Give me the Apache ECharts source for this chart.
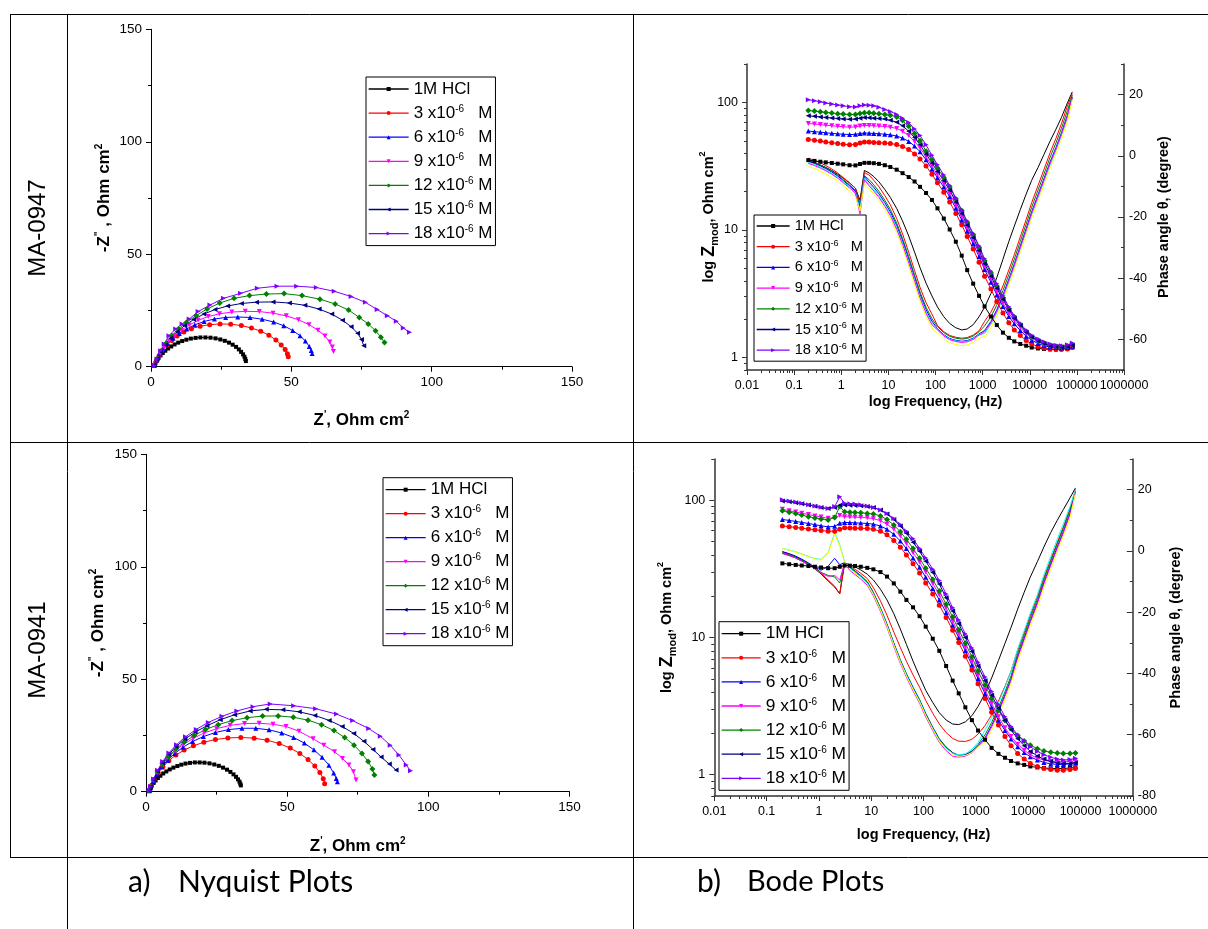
<!DOCTYPE html>
<html>
<head>
<meta charset="utf-8">
<script src="https://cdn.jsdelivr.net/npm/echarts@6/dist/echarts.min.js"></script>
<style>
html,body{margin:0;padding:0;background:#fff;}
#c{width:1208px;height:929px;}
</style>
</head>
<body>
<div id="c"></div>
<script>
// ---------- legend entries (inhibitor concentration) ----------
const seriesNames = ['1M HCl', '3 x10-6 M', '6 x10-6 M', '9 x10-6 M', '12 x10-6 M', '15 x10-6 M', '18 x10-6 M'];
const legendLabel = {
  '1M HCl': '1M HCl',
  '3 x10-6 M': '3 x10{s|-6}   M',
  '6 x10-6 M': '6 x10{s|-6}   M',
  '9 x10-6 M': '9 x10{s|-6}   M',
  '12 x10-6 M': '12 x10{s|-6} M',
  '15 x10-6 M': '15 x10{s|-6} M',
  '18 x10-6 M': '18 x10{s|-6} M'
};
const seriesColors = ['#000000', '#ff0000', '#0000ff', '#ff00ff', '#008000', '#000080', '#8000ff'];
const phaseColors = ['#000000', '#ff0000', '#008000', '#0000ff', '#00ffff', '#ff00ff', '#ffff00'];
const markSymbols = ['rect', 'circle', 'triangle', 'triangle', 'diamond', 'triangle', 'triangle'];
const markRotate = [0, 0, 0, 180, 0, 90, -90];
const markSize = [4, 5, 5, 5, 6, 5, 5];

// ---------- tick labels ----------
const nyqTicks = [0, 50, 100, 150];
const freqTicks = [0.01, 0.1, 1, 10, 100, 1000, 10000, 100000, 1000000];
const zmodTicks = [1, 10, 100];
const phaseTicksA = [-60, -40, -20, 0, 20];
const phaseTicksB = [-80, -60, -40, -20, 0, 20];
const phaseMinor = [-70, -50, -30, -10, 10, 30];

// ---------- Nyquist, MA-0947 (Z', -Z'') ----------
const nyqA_hcl = [[1.2,0.4],[1.6,1.6],[2.1,2.8],[2.7,3.9],[3.4,5.0],[4.2,6.1],[5.1,7.1],[6.1,8.1],[7.2,9.0],[8.4,9.9],[9.7,10.7],[11.1,11.4],[12.6,12.0],[14.2,12.5],[15.9,12.8],[17.6,13.0],[19.4,13.0],[21.2,12.9],[23.0,12.6],[24.7,12.1],[26.3,11.5],[27.8,10.7],[29.1,9.8],[30.3,8.8],[31.3,7.7],[32.1,6.6],[32.8,5.5],[33.3,4.4],[33.6,3.4],[33.8,2.5]];
const nyqA_3 = [[1.1,0.5],[1.9,2.7],[2.9,5.0],[4.1,7.3],[5.6,9.5],[7.3,11.6],[9.3,13.6],[11.7,15.4],[14.4,16.9],[17.5,18.0],[20.9,18.7],[24.6,19.0],[28.4,18.9],[32.2,18.3],[35.8,17.2],[39.1,15.8],[42.0,14.0],[44.5,11.9],[46.4,9.7],[47.8,7.6],[48.6,5.8],[48.9,4.4]];
const nyqA_6 = [[1.1,0.6],[2.0,3.0],[3.1,5.6],[4.4,8.0],[6.0,10.4],[7.9,12.7],[10.1,14.8],[12.7,16.8],[15.6,18.6],[18.9,20.1],[22.6,21.2],[26.6,21.9],[30.9,22.1],[35.3,21.9],[39.6,21.1],[43.7,19.9],[47.3,18.2],[50.5,16.1],[53.1,13.8],[55.0,11.4],[56.4,9.0],[57.1,7.2],[57.4,5.9]];
const nyqA_9 = [[1.1,0.6],[2.1,3.2],[3.3,6.0],[4.7,8.7],[6.4,11.3],[8.4,13.8],[10.8,16.2],[13.6,18.5],[16.8,20.6],[20.4,22.3],[24.4,23.5],[28.8,24.3],[33.6,24.6],[38.6,24.5],[43.5,23.8],[48.2,22.6],[52.5,20.9],[56.3,18.7],[59.5,16.2],[62.0,13.6],[63.7,11.0],[64.6,8.8],[65.0,6.8]];
const nyqA_12 = [[1.15,0.7],[2.3,3.7],[3.7,7.1],[5.4,10.4],[7.4,13.8],[9.8,16.8],[12.6,19.7],[16.1,22.7],[20.0,25.7],[24.5,28.3],[29.6,30.4],[35.1,31.6],[41.1,32.3],[47.4,32.5],[53.8,31.6],[60.2,30.0],[65.6,27.9],[70.4,25.2],[74.2,21.9],[77.4,19.0],[80.0,16.0],[81.9,13.1],[83.2,10.8]];
const nyqA_15 = [[1.1,0.6],[2.2,3.4],[3.5,6.6],[5.1,9.6],[7.0,12.6],[9.3,15.5],[12.0,18.3],[15.2,21.0],[18.8,23.4],[22.8,25.4],[27.3,27.0],[32.2,28.1],[37.6,28.7],[43.5,28.8],[49.3,28.3],[54.8,27.3],[59.9,25.6],[64.4,23.4],[68.2,20.7],[71.3,17.8],[73.6,14.9],[75.0,12.1],[75.8,9.3]];
const nyqA_18 = [[1.15,0.45],[2.17,3.4],[3.44,7.1],[4.7,10.1],[6.4,13.8],[8.8,16.8],[11.1,19.0],[13.6,21.2],[16.8,24.5],[21.0,27.4],[25.8,30.4],[31.9,32.6],[37.9,34.9],[44.9,35.8],[51.9,35.8],[58.9,35.2],[65.3,33.5],[71.3,31.2],[76.4,28.6],[80.6,25.4],[84.2,22.7],[87.4,20.2],[89.9,17.2],[92.1,15.3]];

// ---------- Nyquist, MA-0941 ----------
const nyqB_hcl = [[1.2,0.4],[1.6,1.6],[2.1,2.8],[2.7,3.9],[3.4,5.0],[4.2,6.1],[5.1,7.1],[6.1,8.1],[7.2,9.0],[8.4,9.9],[9.7,10.7],[11.1,11.4],[12.5,12.0],[14.0,12.5],[15.6,12.8],[17.3,13.0],[19.0,13.0],[20.7,12.9],[22.5,12.6],[24.2,12.1],[25.8,11.5],[27.3,10.7],[28.7,9.8],[29.9,8.8],[31.0,7.7],[31.9,6.6],[32.6,5.5],[33.1,4.5],[33.4,3.6],[33.6,2.8]];
const nyqB_3 = [[1.2,0.5],[1.9,2.6],[2.9,5.4],[4.3,8.3],[6.0,11.1],[8.1,13.8],[10.6,16.3],[13.5,18.5],[16.8,20.4],[20.5,22.0],[24.6,23.2],[29.0,23.9],[33.6,24.1],[38.3,23.8],[42.9,22.9],[47.2,21.4],[51.1,19.4],[54.5,17.0],[57.4,14.3],[59.8,11.4],[61.6,8.5],[62.8,5.8],[63.3,3.5]];
const nyqB_6 = [[1.1,0.4],[1.6,1.8],[2.6,4.6],[3.9,7.9],[5.6,11.0],[7.7,14.0],[10.2,17.0],[13.1,19.8],[16.5,22.3],[20.3,24.5],[24.6,26.3],[29.2,27.6],[34.0,28.2],[38.9,28.2],[43.6,27.5],[48.1,26.1],[52.3,24.1],[56.1,21.6],[59.5,18.6],[62.4,15.3],[64.8,11.8],[66.5,8.3],[67.4,5.9],[67.8,4.4]];
const nyqB_9 = [[1.1,0.5],[1.6,2.0],[2.6,5.0],[3.9,8.5],[5.6,11.8],[7.7,15.0],[10.2,18.1],[13.2,21.0],[16.7,23.7],[20.6,26.1],[25.0,28.0],[29.8,29.5],[34.9,30.3],[40.1,30.4],[45.0,30.0],[49.6,29.0],[54.2,26.9],[59.2,23.5],[63.0,20.7],[66.8,17.8],[69.6,14.8],[71.9,11.9],[73.5,8.9],[74.4,5.2]];
const nyqB_12 = [[1.1,0.5],[1.6,2.1],[2.7,5.2],[4.1,8.8],[5.9,12.3],[8.0,15.7],[10.6,19.0],[13.6,22.1],[17.1,25.0],[21.1,27.6],[25.6,29.8],[30.5,31.6],[35.8,32.9],[41.3,33.6],[46.8,33.7],[52.2,33.1],[57.4,31.8],[62.2,29.8],[66.6,27.2],[70.4,24.1],[73.7,20.7],[76.5,17.0],[78.7,13.4],[80.2,10.1],[80.9,7.4]];
const nyqB_15 = [[1.1,0.5],[1.6,2.2],[2.7,5.4],[4.1,9.2],[5.9,12.9],[8.1,16.6],[10.7,20.1],[13.8,23.4],[17.4,26.5],[21.6,29.3],[26.3,32.0],[31.4,34.2],[36.9,35.9],[42.6,36.6],[48.5,36.4],[54.3,35.5],[59.8,33.9],[64.9,31.7],[69.5,29.0],[73.6,25.9],[77.2,22.4],[80.4,18.8],[83.3,15.4],[86.2,12.3],[88.6,9.6]];
const nyqB_18 = [[1.1,0.5],[1.6,2.3],[2.7,5.6],[4.1,9.5],[5.9,13.4],[8.1,17.2],[10.8,20.9],[14.0,24.4],[17.8,27.7],[22.1,30.8],[26.9,33.5],[32.2,35.9],[37.9,37.8],[44.0,39.0],[52.3,38.2],[60.1,36.9],[67.5,34.5],[73.2,31.6],[78.9,28.1],[83.0,24.7],[86.5,20.7],[89.6,16.3],[92.2,11.9],[93.7,9.3]];

// ---------- Bode: measured frequencies (Hz) ----------
const freqHz = [0.2,0.27,0.36,0.47,0.63,0.84,1.1,1.5,2.0,2.5,3.1,3.9,4.9,6.3,8.4,11,15,20,27,36,47,63,84,110,150,200,270,360,470,630,840,1100,1500,2000,2700,3600,4700,6300,8400,11000,15000,20000,27000,36000,47000,63000,80000];

// |Z| (Ohm cm2), MA-0947
const zmodA_hcl = [35.3,34.8,34.3,33.9,33.5,33.1,32.7,32.2,32.1,32.9,33.6,33.6,33.4,33,32.2,31.2,29.7,27.9,26,24,21.8,19.5,17.2,14.8,12.3,10.1,8.1,6.3,4.85,3.8,3.05,2.52,2.1,1.8,1.57,1.43,1.34,1.28,1.24,1.2,1.18,1.17,1.16,1.16,1.17,1.18,1.2];
const zmodA_3 = [51.3,50.5,49.8,49,48.3,47.6,47,46.5,46.8,48,49,48.9,48.6,48.3,48,47.6,46.8,45.2,42.8,39.5,36,31.8,27.3,23.5,19.8,16.6,13.5,11,8.9,7.1,5.6,4.35,3.45,2.75,2.24,1.88,1.65,1.49,1.36,1.28,1.22,1.19,1.17,1.16,1.16,1.17,1.2];
const zmodA_6 = [59.6,59,58.4,57.8,57.2,56.7,56.3,56,56.2,57,57.6,57.4,57.1,56.8,56.3,55.7,54.5,52.5,49.5,45.5,41,35.5,30,25.7,21.7,18.2,14.8,12,9.8,7.8,6.2,4.9,3.9,3.1,2.52,2.1,1.84,1.63,1.47,1.37,1.29,1.24,1.21,1.2,1.19,1.2,1.23];
const zmodA_9 = [68.4,67.7,67,66.3,65.6,65,64.5,64,64.2,65.3,66,65.8,65.5,65.2,64.8,64,62.5,59.5,55,49.5,44,37.5,31.8,27.2,23,19.3,15.7,12.8,10.4,8.3,6.6,5.2,4.15,3.3,2.68,2.22,1.95,1.72,1.54,1.42,1.33,1.27,1.23,1.21,1.2,1.21,1.24];
const zmodA_12 = [86.5,85.5,84.5,83.5,82.5,81.5,81,80.3,80.5,82,83,82.8,82.2,81.5,80.5,79.5,77,72,65,57,50,41.5,35.5,30.5,25.8,21.7,17.5,14.2,11.5,9.2,7.3,5.75,4.6,3.65,2.95,2.42,2.08,1.82,1.6,1.46,1.37,1.3,1.25,1.23,1.22,1.23,1.26];
const zmodA_15 = [78.5,77.8,77,76.3,75.5,74.8,74.2,73.7,74,75.2,76,75.8,75.3,74.8,74,72.5,70,65.5,59.5,53,46.5,39.5,33.5,28.8,24.3,20.5,16.6,13.5,10.9,8.7,6.9,5.45,4.35,3.5,2.85,2.35,2.03,1.79,1.58,1.45,1.35,1.29,1.24,1.22,1.21,1.22,1.25];
const zmodA_18 = [105,103,101,99,97,95.5,94,92.5,92,94,95.5,95,94,91.5,88,85,80.5,75,69.5,62,55,46.5,38.5,32.5,27,22.3,17.8,14.3,11.7,9.4,7.5,5.95,4.75,3.8,3.05,2.5,2.13,1.85,1.64,1.5,1.4,1.33,1.28,1.25,1.24,1.26,1.3];

// phase angle (degree), MA-0947
const phaseA_1 = [-1.7,-2.3,-3,-3.8,-4.8,-6,-7.3,-8.9,-10.6,-14.5,-4.8,-5.6,-6.8,-8.5,-11,-13.6,-17.2,-21.3,-26.2,-31.5,-36.6,-41.6,-45.8,-49.4,-52.6,-54.8,-56.2,-56.9,-56.6,-55.2,-52.6,-49.5,-45,-39.8,-33.8,-28,-23,-17.6,-12.5,-8,-3.8,0.4,4.8,8.7,12.5,17.3,20.9];
const phaseA_2 = [-0.8,-1.5,-2.3,-3.2,-4.3,-5.6,-7.1,-8.8,-10.6,-15.5,-5.5,-6.3,-8.0,-10.1,-13.0,-16.0,-20.5,-25.5,-31.5,-37.5,-43.0,-48.0,-51.7,-55.5,-57.5,-58.7,-59.3,-59.6,-59.4,-58.6,-57.2,-54.1,-51.1,-47.3,-42.5,-37.3,-32.3,-26.5,-20.8,-15.3,-9.7,-4.5,1.0,5.7,10.5,16.3,20.3];
const phaseA_3 = [-1.5,-2.2,-3.0,-3.9,-5.0,-6.3,-7.8,-9.5,-11.3,-16.5,-6.5,-7.8,-9.5,-11.6,-14.5,-17.5,-22,-27,-33,-39,-44.5,-49.5,-53.2,-55.8,-57.8,-59.0,-59.6,-59.9,-59.7,-58.9,-57.5,-55.6,-52.6,-48.8,-44.0,-38.8,-33.8,-28.0,-22.3,-16.8,-11.2,-6.0,-0.5,4.2,9.0,14.8,19.8];
const phaseA_4 = [-1.8,-2.5,-3.3,-4.2,-5.3,-6.6,-8.1,-9.8,-11.6,-17.0,-6.8,-8.6,-10.3,-12.4,-15.3,-18.3,-22.8,-27.8,-33.8,-39.8,-45.3,-50.3,-54.0,-56.5,-58.5,-59.7,-60.3,-60.6,-60.4,-59.6,-58.2,-57.1,-54.1,-50.3,-45.5,-40.3,-35.3,-29.5,-23.8,-18.3,-12.7,-7.5,-2.0,2.7,7.5,13.3,19.2];
const phaseA_5 = [-2.2,-2.9,-3.7,-4.6,-5.7,-7.0,-8.5,-10.2,-12.0,-17.5,-7.2,-9.3,-11.0,-13.1,-16.0,-19.0,-23.5,-28.5,-34.5,-40.5,-46.0,-51.0,-54.7,-56.7,-58.7,-59.9,-60.5,-60.8,-60.6,-59.8,-58.4,-58.1,-55.1,-51.3,-46.5,-41.3,-36.3,-30.5,-24.8,-19.3,-13.7,-8.5,-3.0,1.7,6.5,12.3,18.8];
const phaseA_6 = [-2.5,-3.2,-4.0,-4.9,-6.0,-7.3,-8.8,-10.5,-12.3,-19.0,-7.8,-9.8,-11.5,-13.6,-16.5,-19.5,-24.0,-29.0,-35.0,-41.0,-46.5,-51.5,-55.2,-56.9,-58.9,-60.1,-60.7,-61.0,-60.8,-60.0,-58.6,-57.6,-54.6,-50.8,-46.0,-40.8,-35.8,-30.0,-24.3,-18.8,-13.2,-8.0,-2.5,2.2,7.0,12.8,19.0];
const phaseA_7 = [-3.5,-4.2,-5.0,-5.9,-7.0,-8.3,-9.8,-11.5,-13.3,-18.0,-9.0,-10.8,-12.5,-14.6,-17.5,-20.5,-25.0,-30.0,-36.0,-42.0,-47.5,-52.5,-56.2,-57.9,-59.9,-61.1,-61.7,-62.0,-61.8,-61.0,-59.6,-59.1,-56.1,-52.3,-47.5,-42.3,-37.3,-31.5,-25.8,-20.3,-14.7,-9.5,-4.0,0.7,5.5,11.3,18.3];

// |Z| (Ohm cm2), MA-0941
const zmodB_hcl = [34.7,34.2,33.8,33.5,33.2,32.8,32.4,32.0,32.0,32.8,33.5,33.4,33.2,32.8,32.2,31.4,30,27.8,24.8,21.6,18.8,16.6,14.3,12,9.8,8.0,6.2,4.85,3.92,3.1,2.5,2.1,1.8,1.57,1.42,1.33,1.26,1.21,1.18,1.15,1.13,1.12,1.11,1.11,1.11,1.12,1.13];
const zmodB_3 = [65,64.2,63.4,62.6,61.8,61,60.2,59.5,59.6,61.5,63,62.9,62.7,62.5,62.3,61.5,59.5,56,51,45.5,40,34.5,29.5,25,20.8,17.2,14,11.3,9.2,7.3,5.8,4.6,3.6,2.85,2.3,1.9,1.63,1.43,1.3,1.21,1.15,1.11,1.09,1.08,1.08,1.09,1.11];
const zmodB_6 = [72.5,71.3,70.2,69,67.8,66.5,65.2,64,64.6,68,69,68.8,68.5,68.2,67.8,67,65,61.5,56.5,50.5,44.5,38,32.5,27.5,22.8,18.8,15.2,12.3,10,8,6.3,5,3.9,3.1,2.5,2.1,1.82,1.6,1.45,1.35,1.28,1.23,1.2,1.19,1.19,1.2,1.22];
const zmodB_9 = [86,84,82.2,80.5,78.8,77,75.5,74,74.8,77.5,76,75.7,75.4,75,74.5,73.5,71,67,61.5,55,48.5,41.5,35.5,30,24.8,20.4,16.4,13.2,10.7,8.5,6.7,5.3,4.15,3.3,2.65,2.2,1.9,1.67,1.51,1.4,1.32,1.28,1.25,1.24,1.24,1.25,1.27];
const zmodB_12 = [84,82,80,78,76,74.3,73,72,75,90,82.4,82,81.5,81,80.3,79.5,77,72.5,66,59,52,44.5,37.8,32,26.5,21.8,17.5,14.1,11.4,9.1,7.2,5.7,4.5,3.6,2.95,2.48,2.17,1.93,1.76,1.64,1.55,1.49,1.46,1.44,1.43,1.43,1.44];
const zmodB_15 = [99,97.5,96,94.3,92.5,90.5,88.5,87,88.5,92,92.5,92.2,91.8,91.2,90.2,88.5,85,79.5,72.5,65,57.5,49.5,42.5,36,29.8,24.5,19.5,15.6,12.6,10,7.9,6.2,4.85,3.8,3.05,2.5,2.12,1.83,1.63,1.48,1.37,1.3,1.25,1.22,1.21,1.21,1.23];
const zmodB_18 = [101,99,97,95,93,91,89,87,90,106,95,94.5,94,93,91,88.5,85,80,73.6,66.5,59.5,52.5,44.5,38,31.5,26,20.8,16.5,13.4,10.6,8.4,6.6,5.15,4.05,3.25,2.65,2.25,1.95,1.77,1.6,1.48,1.4,1.34,1.3,1.28,1.29,1.32];

// phase angle (degree), MA-0941
const phaseB_1 = [-0.8,-1.5,-2.3,-3.3,-4.5,-5.9,-7.5,-9.8,-11.8,-14.0,-4.0,-4.5,-5.2,-6.2,-7.6,-9.5,-12.5,-16.0,-20.5,-25.5,-30.5,-36.0,-41.0,-45.5,-49.5,-52.8,-55.2,-56.5,-56.7,-55.8,-53.8,-50.8,-46.5,-41.5,-35.8,-30.2,-25.0,-19.0,-13.5,-8.5,-3.5,1.3,6.0,10.0,13.5,17.3,20.5];
const phaseB_2 = [-0.3,-1.0,-1.9,-2.9,-4.1,-5.5,-7.2,-9.5,-11.5,-14.0,-4.0,-5.0,-6.0,-7.3,-9.0,-12.0,-16.3,-21.0,-26.5,-31.5,-36.0,-40.5,-44.5,-48.8,-53.0,-56.5,-59.3,-61.2,-62.1,-62.2,-61.5,-59.8,-57.0,-53.5,-49.0,-44.2,-39.2,-32.5,-26.7,-21.0,-15.0,-8.7,-2.8,2.8,7.8,13.8,20.0];
const phaseB_3 = [-0.5,-1.2,-2.0,-3.0,-4.2,-5.6,-7.0,-8.0,-8.5,-10.5,-4.0,-5.2,-6.5,-8.0,-10.0,-13.5,-18.5,-23.8,-30.0,-35.5,-40.0,-44.5,-48.5,-53.0,-57.5,-61.3,-64.0,-65.8,-66.7,-66.5,-65.3,-63.2,-60.0,-56.0,-51.2,-46.0,-40.8,-33.5,-27.5,-21.8,-15.8,-9.3,-3.3,2.3,7.3,13.3,19.5];
const phaseB_4 = [-0.2,-0.9,-1.7,-2.7,-3.9,-5.3,-6.3,-5.0,-2.4,-4.5,-3.8,-5.5,-6.8,-8.3,-10.3,-13.8,-18.8,-24.1,-30.3,-35.8,-40.3,-44.8,-48.8,-53.3,-57.8,-61.6,-64.2,-66.0,-66.8,-66.6,-65.5,-63.6,-61.0,-57.0,-52.2,-47.0,-41.8,-34.5,-28.5,-22.8,-16.8,-10.3,-4.3,1.3,6.3,12.3,19.2];
const phaseB_5 = [0.8,0.3,-0.3,-1.0,-1.8,-2.5,-2.8,-0.5,5.9,2.0,-3.5,-5.7,-7.0,-8.5,-10.5,-14.0,-19.0,-24.3,-30.5,-36.0,-40.5,-45.0,-49.0,-53.5,-58.0,-61.8,-64.4,-66.1,-66.6,-66.2,-64.8,-62.5,-58.5,-54.5,-49.7,-44.5,-39.3,-32.0,-26.0,-20.3,-14.3,-7.8,-1.8,3.8,8.8,14.5,19.8];
const phaseB_6 = [-0.8,-1.5,-2.3,-3.3,-4.5,-5.9,-7.3,-8.3,-8.0,-9.5,-4.0,-6.4,-7.7,-9.2,-11.2,-14.7,-19.7,-25.0,-31.2,-36.7,-41.2,-45.7,-49.7,-54.2,-58.7,-62.5,-65.2,-67.0,-67.3,-67.0,-65.9,-63.9,-61.5,-57.5,-52.7,-47.5,-42.3,-35.0,-29.0,-23.3,-17.3,-10.8,-4.8,0.8,5.8,11.8,19.0];
const phaseB_7 = [0.8,0.2,-0.4,-1.1,-1.9,-2.6,-3.0,-0.8,5.5,1.5,-3.7,-6.0,-7.3,-8.8,-10.8,-14.3,-19.3,-24.6,-30.8,-36.3,-40.8,-45.3,-49.3,-53.8,-58.3,-62.1,-64.8,-66.6,-67.0,-66.8,-65.8,-63.9,-62.5,-58.5,-53.7,-48.5,-43.3,-36.0,-30.0,-24.3,-18.3,-11.8,-5.8,-0.2,4.8,10.8,18.8];

// ---------- helpers ----------
const FONT = '"Liberation Sans", Arial, Helvetica, sans-serif';
const CAPTION_FONT = 'Lato, "Open Sans", sans-serif';
const pairs = (vals) => freqHz.map((f, i) => [f, vals[i]]);

// log-axis minor tick values (2..9 within each decade)
function logMinor(lo, hi, extra) {
  const out = extra.slice();
  for (let d = lo; d < hi; d *= 10) {
    for (let m = 2; m <= 9; m++) out.push(+(d * m).toPrecision(3));
  }
  return out;
}
const freqMinor = logMinor(0.01, 1000000, []);
const zMinorA = logMinor(1, 100, [0.8, 0.9, 200]);
const zMinorB = logMinor(1, 100, [0.7, 0.8, 0.9, 200]);

const freqLabel = (v) => v < 1 ? String(+v.toPrecision(1)) : String(Math.round(v));

function nyqX(grid, gap) {
  return {
    gridIndex: grid, type: 'value', min: 0, max: 150, position: 'bottom',
    axisLine: { show: true, onZero: false, lineStyle: { color: '#000', width: 1 } },
    axisTick: { show: true, length: 5, lineStyle: { color: '#000', width: 1 }, customValues: nyqTicks },
    minorTick: { show: false },
    axisLabel: { customValues: nyqTicks, fontFamily: FONT, fontSize: 13.5, color: '#000', margin: 9 },
    splitLine: { show: false },
    name: "Z{s|'}, Ohm cm{s|2}", nameLocation: 'middle', nameGap: gap, nameMoveOverlap: false,
    nameTextStyle: { fontFamily: FONT, fontSize: 17, fontWeight: 'bold', color: '#000', lineHeight: 20,
      rich: { s: { fontFamily: FONT, fontSize: 10, fontWeight: 'bold', lineHeight: 10, verticalAlign: 'top', color: '#000' } } }
  };
}
function nyqXMinor(grid) {
  return {
    gridIndex: grid, type: 'value', min: 0, max: 150, position: 'bottom',
    axisLine: { show: false, onZero: false },
    axisTick: { show: true, length: 3, lineStyle: { color: '#000' }, customValues: [25, 75, 125] },
    axisLabel: { show: false }, splitLine: { show: false }
  };
}
function nyqY(grid, gap) {
  return {
    gridIndex: grid, type: 'value', min: 0, max: 150, position: 'left',
    axisLine: { show: true, onZero: false, lineStyle: { color: '#000', width: 1 } },
    axisTick: { show: true, length: 5, lineStyle: { color: '#000', width: 1 }, customValues: nyqTicks },
    axisLabel: { customValues: nyqTicks, fontFamily: FONT, fontSize: 13.5, color: '#000', margin: 9 },
    splitLine: { show: false },
    name: '-Z{s|"} , Ohm cm{s|2}', nameLocation: 'middle', nameGap: gap, nameRotate: 90, nameMoveOverlap: false,
    nameTextStyle: { fontFamily: FONT, fontSize: 17, fontWeight: 'bold', color: '#000', lineHeight: 20,
      rich: { s: { fontFamily: FONT, fontSize: 10, fontWeight: 'bold', lineHeight: 10, verticalAlign: 'top', color: '#000' } } }
  };
}
function nyqYMinor(grid) {
  return {
    gridIndex: grid, type: 'value', min: 0, max: 150, position: 'left',
    axisLine: { show: false, onZero: false },
    axisTick: { show: true, length: 3, lineStyle: { color: '#000' }, customValues: [25, 75, 125] },
    axisLabel: { show: false }, splitLine: { show: false }
  };
}

const AX = '#333';
function bodeX(grid, gap) {
  return {
    gridIndex: grid, type: 'log', logBase: 10, min: 0.01, max: 1000000, position: 'bottom',
    axisLine: { show: true, onZero: false, lineStyle: { color: AX, width: 1.5 } },
    axisTick: { show: true, length: 5, lineStyle: { color: AX, width: 1 }, customValues: freqTicks },
    axisLabel: { customValues: freqTicks, formatter: freqLabel, fontFamily: FONT, fontSize: 12.5, color: '#000', margin: 9 },
    splitLine: { show: false }, minorTick: { show: false },
    name: 'log Frequency, (Hz)', nameLocation: 'middle', nameGap: gap, nameMoveOverlap: false,
    nameTextStyle: { fontFamily: FONT, fontSize: 14.5, fontWeight: 'bold', color: '#000' }
  };
}
function bodeXMinor(grid) {
  return {
    gridIndex: grid, type: 'log', logBase: 10, min: 0.01, max: 1000000, position: 'bottom',
    axisLine: { show: false, onZero: false },
    axisTick: { show: true, length: 3, lineStyle: { color: AX, width: 1 }, customValues: freqMinor },
    axisLabel: { show: false }, splitLine: { show: false }
  };
}
function bodeY(grid, lo, gap) {
  return {
    gridIndex: grid, type: 'log', logBase: 10, min: lo, max: 200, position: 'left',
    axisLine: { show: true, onZero: false, lineStyle: { color: AX, width: 1.5 } },
    axisTick: { show: true, length: 5, lineStyle: { color: AX, width: 1 }, customValues: zmodTicks },
    axisLabel: { customValues: zmodTicks, formatter: (v) => String(Math.round(v)), fontFamily: FONT, fontSize: 12.5, color: '#000', margin: 9 },
    splitLine: { show: false }, minorTick: { show: false },
    name: 'log {z|Z}{b|mod}, Ohm cm{s|2}', nameLocation: 'middle', nameGap: gap, nameRotate: 90, nameMoveOverlap: false,
    nameTextStyle: { fontFamily: FONT, fontSize: 14.5, fontWeight: 'bold', color: '#000', lineHeight: 22,
      rich: {
        z: { fontFamily: FONT, fontSize: 18, fontWeight: 'bold', lineHeight: 22, color: '#000' },
        b: { fontFamily: FONT, fontSize: 11, fontWeight: 'bold', lineHeight: 12, verticalAlign: 'bottom', color: '#000' },
        s: { fontFamily: FONT, fontSize: 9, fontWeight: 'bold', lineHeight: 10, verticalAlign: 'top', color: '#000' }
      } }
  };
}
function bodeYMinor(grid, lo, minors) {
  return {
    gridIndex: grid, type: 'log', logBase: 10, min: lo, max: 200, position: 'left',
    axisLine: { show: false, onZero: false },
    axisTick: { show: true, length: 3, lineStyle: { color: AX, width: 1 }, customValues: minors },
    axisLabel: { show: false }, splitLine: { show: false }
  };
}
function phaseY(grid, lo, labels, gap) {
  return {
    gridIndex: grid, type: 'value', min: lo, max: 30, position: 'right',
    axisLine: { show: true, onZero: false, lineStyle: { color: AX, width: 1.5 } },
    axisTick: { show: true, inside: true, length: 6, lineStyle: { color: AX, width: 1 }, customValues: labels },
    axisLabel: { customValues: labels, fontFamily: FONT, fontSize: 12.5, color: '#000', margin: 5 },
    splitLine: { show: false },
    name: 'Phase angle θ, (degree)', nameLocation: 'middle', nameGap: gap, nameRotate: 90, nameMoveOverlap: false,
    nameTextStyle: { fontFamily: FONT, fontSize: 14.5, fontWeight: 'bold', color: '#000' }
  };
}
function phaseYMinor(grid, lo) {
  return {
    gridIndex: grid, type: 'value', min: lo, max: 30, position: 'right',
    axisLine: { show: false, onZero: false },
    axisTick: { show: true, inside: true, length: 3, lineStyle: { color: AX, width: 1 }, customValues: phaseMinor },
    axisLabel: { show: false }, splitLine: { show: false }
  };
}

function markedSeries(list, xi, yi) {
  return list.map((d, k) => ({
    type: 'line', name: seriesNames[k], xAxisIndex: xi, yAxisIndex: yi, data: d,
    symbol: markSymbols[k], symbolRotate: markRotate[k], symbolSize: markSize[k],
    itemStyle: { color: seriesColors[k] }, lineStyle: { color: seriesColors[k], width: 1 },
    emphasis: { disabled: true }, z: 3
  }));
}
function phaseSeries(list, xi, yi, tag) {
  return list.map((d, k) => ({
    type: 'line', name: tag + ' θ ' + (k + 1), xAxisIndex: xi, yAxisIndex: yi, data: pairs(d),
    showSymbol: false, symbol: 'none', lineStyle: { color: phaseColors[k], width: 1 },
    emphasis: { disabled: true }, z: 2
  }));
}

function legendBox(left, top, fontSize, lineH, gap, itemW) {
  return {
    data: seriesNames, orient: 'vertical', left: left, top: top, padding: [3, 3, 3, 2],
    itemWidth: itemW, itemHeight: 5, itemGap: gap, selectedMode: false,
    borderColor: '#000', borderWidth: 1, backgroundColor: '#fff',
    lineStyle: { width: 1.3 },
    formatter: (n) => legendLabel[n],
    textStyle: { fontFamily: FONT, fontSize: fontSize, color: '#000', lineHeight: lineH,
      rich: { s: { fontFamily: FONT, fontSize: Math.round(fontSize * 0.6), lineHeight: Math.round(fontSize * 0.6), verticalAlign: 'top', color: '#000' } } }
  };
}

function hLine(y, x1, x2) { return { type: 'line', silent: true, shape: { x1: x1, y1: y, x2: x2, y2: y }, style: { stroke: '#000', lineWidth: 1 } }; }
function vLine(x, y1, y2) { return { type: 'line', silent: true, shape: { x1: x, y1: y1, x2: x, y2: y2 }, style: { stroke: '#000', lineWidth: 1 } }; }
function label(text, x, y, size, rot, family, align) {
  return { type: 'text', silent: true, x: x, y: y, rotation: rot,
    style: { text: text, fontFamily: family, fontSize: size, fill: '#000', align: align, verticalAlign: 'middle' } };
}

const chart = echarts.init(document.getElementById('c'), null, { renderer: 'canvas', width: 1208, height: 929 });

const option = {
  animation: false,
  backgroundColor: '#ffffff',
  grid: [
    { left: 151, top: 29.3, width: 421, height: 337.4 },
    { left: 747, top: 64, width: 377, height: 306 },
    { left: 146, top: 454.3, width: 423.4, height: 337.4 },
    { left: 714.3, top: 459, width: 418.5, height: 337 }
  ],
  xAxis: [
    nyqX(0, 44), nyqXMinor(0),
    bodeX(1, 24), bodeXMinor(1),
    nyqX(2, 45), nyqXMinor(2),
    bodeX(3, 31), bodeXMinor(3)
  ],
  yAxis: [
    nyqY(0, 37), nyqYMinor(0),
    bodeY(1, 0.8, 27), bodeYMinor(1, 0.8, zMinorA), phaseY(1, -70, phaseTicksA, 32), phaseYMinor(1, -70),
    nyqY(2, 38), nyqYMinor(2),
    bodeY(3, 0.7, 36), bodeYMinor(3, 0.7, zMinorB), phaseY(3, -80, phaseTicksB, 36), phaseYMinor(3, -80)
  ],
  legend: [
    legendBox(366, 77, 17, 18, 6.1, 40),
    legendBox(754, 215, 14.7, 16, 4.7, 33),
    legendBox(383, 477.7, 17, 18, 6, 40),
    legendBox(719, 621.7, 17.4, 18, 6.1, 39)
  ],
  series: [].concat(
    markedSeries([nyqA_hcl, nyqA_3, nyqA_6, nyqA_9, nyqA_12, nyqA_15, nyqA_18], 0, 0),
    phaseSeries([phaseA_1, phaseA_2, phaseA_3, phaseA_4, phaseA_5, phaseA_6, phaseA_7], 2, 4, 'MA-0947'),
    markedSeries([zmodA_hcl, zmodA_3, zmodA_6, zmodA_9, zmodA_12, zmodA_15, zmodA_18].map(pairs), 2, 2),
    markedSeries([nyqB_hcl, nyqB_3, nyqB_6, nyqB_9, nyqB_12, nyqB_15, nyqB_18], 4, 6),
    phaseSeries([phaseB_1, phaseB_2, phaseB_3, phaseB_4, phaseB_5, phaseB_6, phaseB_7], 6, 10, 'MA-0941'),
    markedSeries([zmodB_hcl, zmodB_3, zmodB_6, zmodB_9, zmodB_12, zmodB_15, zmodB_18].map(pairs), 6, 8)
  ),
  graphic: [
    hLine(14.5, 10, 1208), hLine(442.5, 10, 1208), hLine(857.5, 10, 1208),
    vLine(10.5, 14, 858), vLine(67.5, 14, 929), vLine(633.5, 14, 929),
    label('MA-0947', 38, 228, 24, Math.PI / 2, FONT, 'center'),
    label('MA-0941', 38, 650, 24, Math.PI / 2, FONT, 'center'),
    label('a)', 128, 882, 30, 0, CAPTION_FONT, 'left'),
    label('Nyquist Plots', 178, 882, 30, 0, CAPTION_FONT, 'left'),
    label('b)', 697, 882, 30, 0, CAPTION_FONT, 'left'),
    label('Bode Plots', 747, 882, 29, 0, CAPTION_FONT, 'left')
  ]
};
chart.setOption(option);
</script>
</body>
</html>
